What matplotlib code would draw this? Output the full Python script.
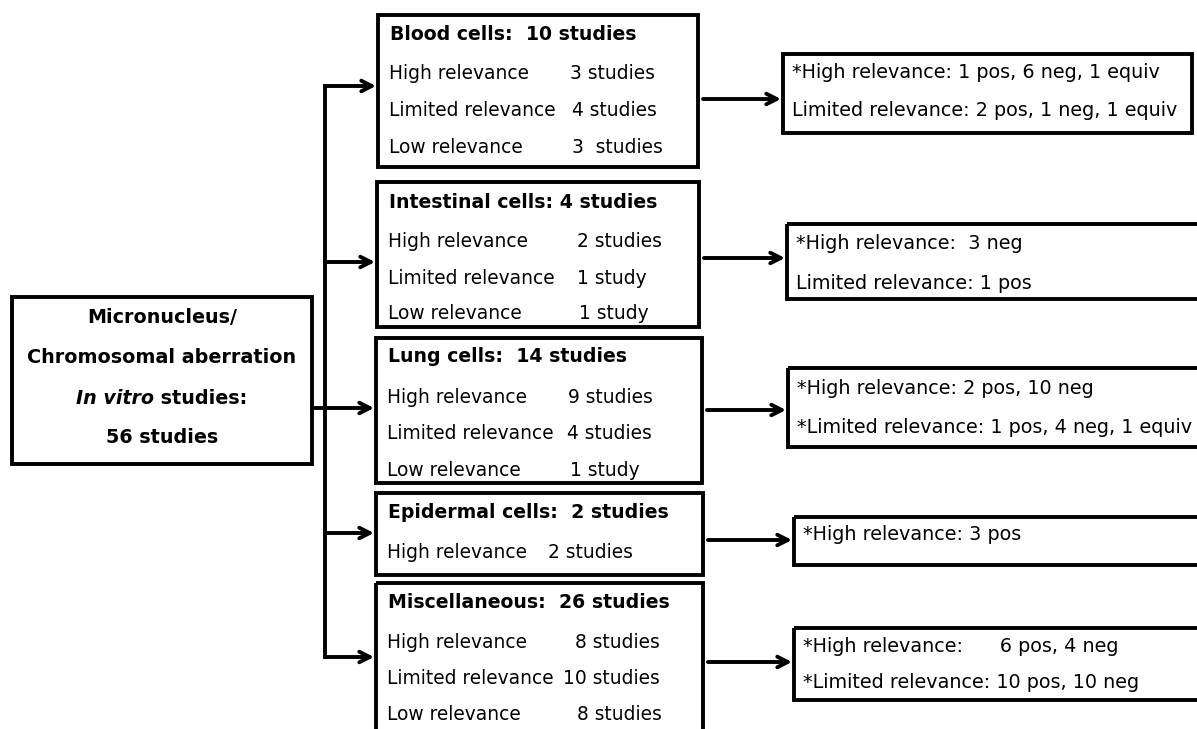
import matplotlib
matplotlib.use('Agg')
import matplotlib.pyplot as plt
from matplotlib.patches import Rectangle

plt.rcParams['font.family'] = ['DejaVu Sans']

# data
root_lines = ['Micronucleus/', 'Chromosomal aberration', 'In vitro', ' studies:', '56 studies']
groups = ['Blood cells:  10 studies', 'Intestinal cells: 4 studies', 'Lung cells:  14 studies',
          'Epidermal cells:  2 studies', 'Miscellaneous:  26 studies']
row_labels = [['High relevance', 'Limited relevance', 'Low relevance'],
              ['High relevance', 'Limited relevance', 'Low relevance'],
              ['High relevance', 'Limited relevance', 'Low relevance'],
              ['High relevance'],
              ['High relevance', 'Limited relevance', 'Low relevance']]
row_values = [['3 studies', '4 studies', '3  studies'],
              ['2 studies', '1 study', '1 study'],
              ['9 studies', '4 studies', '1 study'],
              ['2 studies'],
              ['8 studies', '10 studies', '8 studies']]
results = [['*High relevance: 1 pos, 6 neg, 1 equiv', 'Limited relevance: 2 pos, 1 neg, 1 equiv'],
           ['*High relevance:  3 neg', 'Limited relevance: 1 pos'],
           ['*High relevance: 2 pos, 10 neg', '*Limited relevance: 1 pos, 4 neg, 1 equiv'],
           ['*High relevance: 3 pos'],
           ['*High relevance:      6 pos, 4 neg', '*Limited relevance: 10 pos, 10 neg']]

# layout (pixels, y downwards)
W, H = 1197, 729
root_box = (12, 297, 312, 464)
root_text_y = [317, 357, 398, 437]
trunk_x = 325
mid_boxes = [(378, 15, 698, 167), (377, 182, 699, 327), (376, 338, 702, 483),
             (376, 493, 703, 575), (376, 583, 703, 760)]
mid_title_y = [34, 202, 356, 512, 602]
mid_rows_y = [[73, 110, 147], [241, 278, 313], [397, 433, 470], [552], [642, 679, 715]]
mid_val_x = [[570, 572, 572], [577, 577, 579], [568, 567, 570], [548], [575, 563, 577]]
in_arrow_y = [86, 262, 408, 533, 657]
res_boxes = [(783, 54, 1192, 133), (787, 224, 1210, 299), (788, 368, 1210, 447),
             (794, 517, 1210, 565), (794, 628, 1210, 700)]
res_text_y = [[72, 110], [243, 283], [388, 427], [535], [647, 683]]
out_arrow_y = [99, 258, 410, 540, 662]

LW = 2.8
FS_ROOT = 13.8
FS_TITLE = 13.6
FS_ROW = 13.4
FS_RES = 13.8
fig = plt.figure(figsize=(W / 100, H / 100), dpi=100)
ax = fig.add_axes([0, 0, 1, 1])
ax.set_xlim(0, W)
ax.set_ylim(H, 0)
ax.axis('off')

def box(b):
    x0, y0, x1, y1 = b
    ax.add_patch(Rectangle((x0, y0), x1 - x0, y1 - y0, fill=False, lw=LW, ec='black', joinstyle='miter'))

def arrow(x0, x1, y):
    ax.annotate('', xy=(x1, y), xytext=(x0, y),
                arrowprops=dict(arrowstyle='->,head_length=0.75,head_width=0.38', lw=LW, color='black',
                                shrinkA=0, shrinkB=0))

# root box
box(root_box)
cx = (root_box[0] + root_box[2]) / 2
ax.text(cx, root_text_y[0], root_lines[0], ha='center', va='center', fontsize=FS_ROOT, fontweight='bold')
ax.text(cx, root_text_y[1], root_lines[1], ha='center', va='center', fontsize=FS_ROOT, fontweight='bold')
r = fig.canvas.get_renderer()
t1 = ax.text(0, root_text_y[2], root_lines[2], ha='left', va='center', fontsize=FS_ROOT, fontweight='bold', style='italic')
t2 = ax.text(0, root_text_y[2], root_lines[3], ha='left', va='center', fontsize=FS_ROOT, fontweight='bold')
w1 = t1.get_window_extent(r).width
w2 = t2.get_window_extent(r).width
start = cx - (w1 + w2) / 2
t1.set_x(start)
t2.set_x(start + w1)
ax.text(cx, root_text_y[3], root_lines[4], ha='center', va='center', fontsize=FS_ROOT, fontweight='bold')

# trunk
ax.plot([root_box[2], trunk_x], [in_arrow_y[2], in_arrow_y[2]], color='black', lw=LW)
ax.plot([trunk_x, trunk_x], [in_arrow_y[0], in_arrow_y[-1]], color='black', lw=LW, solid_capstyle='projecting')
for i, y in enumerate(in_arrow_y):
    arrow(trunk_x, mid_boxes[i][0] - 2, y)

# middle boxes
for i, b in enumerate(mid_boxes):
    box(b)
    ax.text(b[0] + 12, mid_title_y[i], groups[i], ha='left', va='center', fontsize=FS_TITLE, fontweight='bold')
    for lab, val, y, vx in zip(row_labels[i], row_values[i], mid_rows_y[i], mid_val_x[i]):
        ax.text(b[0] + 11, y, lab, ha='left', va='center', fontsize=FS_ROW)
        ax.text(vx, y, val, ha='left', va='center', fontsize=FS_ROW)

# result boxes
for i, b in enumerate(res_boxes):
    box(b)
    arrow(mid_boxes[i][2] + 5, b[0] - 2, out_arrow_y[i])
    for txt, y in zip(results[i], res_text_y[i]):
        ax.text(b[0] + 9, y, txt, ha='left', va='center', fontsize=FS_RES)

fig.savefig('out.png', dpi=100)
